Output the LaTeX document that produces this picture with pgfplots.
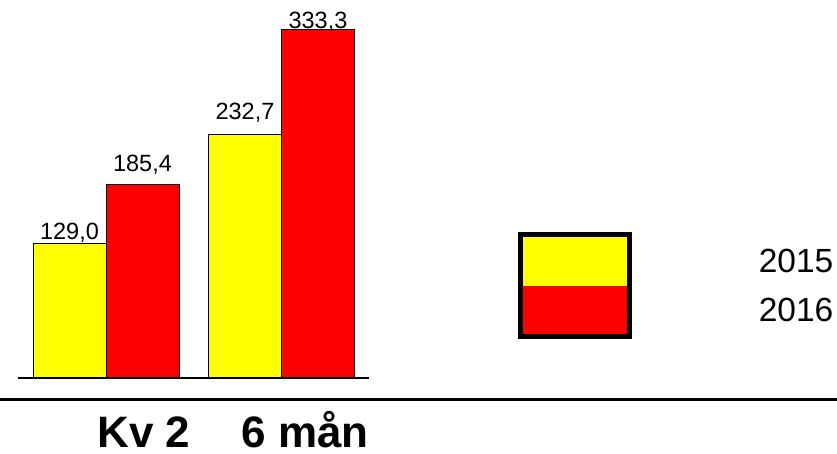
\documentclass[border=0pt]{standalone}
\usepackage{pgfplots}
\pgfplotsset{compat=1.18}
\usepackage{fontspec}
\setmainfont{Liberation Sans}
\definecolor{barY}{RGB}{255,255,0}
\definecolor{barR}{RGB}{255,0,0}
\begin{document}
\begin{tikzpicture}
\useasboundingbox (0,0) rectangle (837pt,454pt);
\begin{axis}[
  at={(18pt,76pt)}, anchor=south west,
  scale only axis, width=352pt, height=355.47pt,
  xmin=18, xmax=370, ymin=0, ymax=340,
  enlargelimits=false, clip=false, hide axis,
  ybar=0pt, bar width=73pt,
  legend cell align=left,
  legend style={at={(axis cs:518,139.6)}, anchor=north west, draw=none, fill=none,
    inner sep=0pt, outer sep=0pt, row sep=0pt,
    font=\fontsize{33.5}{33.5}\selectfont,
    nodes={inner sep=0pt, outer sep=0pt},
    /tikz/every odd column/.append style={column sep=127pt}},
]
\addplot[fill=barY, draw=black, line width=0.8pt,
  legend image code/.code={
    \fill[black] (-5pt,-24.5pt) rectangle (108pt,29pt);
    \fill[barY] (0pt,-24.5pt) rectangle (103pt,24.5pt);}]
  coordinates {(106,129.0) (281.5,232.7)};
\addlegendentry{2015}
\addplot[fill=barR, draw=black, line width=0.8pt,
  legend image code/.code={
    \fill[black] (-5pt,-28.5pt) rectangle (108pt,23.5pt);
    \fill[barR] (0pt,-23.5pt) rectangle (103pt,23.5pt);}]
  coordinates {(106,185.4) (281.5,333.3)};
\addlegendentry{2016}
\draw[line width=2pt] (axis cs:18,0) -- (axis cs:369,0);
\begin{scope}[every node/.style={anchor=base, font=\fontsize{23.5}{23.5}\selectfont, inner sep=0pt}]
\node[yshift=4pt] at (axis cs:69.5,129.0) {129,0};
\node[yshift=13pt] at (axis cs:142.5,185.4) {185,4};
\node[yshift=15pt] at (axis cs:245,232.7) {232,7};
\node[yshift=1pt] at (axis cs:318,333.3) {333,3};
\end{scope}
\node[anchor=base, inner sep=0pt, font=\bfseries\fontsize{44}{44}\selectfont, yshift=-70pt] at (axis cs:144,0) {Kv 2};
\node[anchor=base, inner sep=0pt, font=\bfseries\fontsize{44}{44}\selectfont, yshift=-70pt] at (axis cs:305,0) {6 mån};
\end{axis}
\draw[line width=3pt] (0pt,54.5pt) -- (837pt,54.5pt);
\end{tikzpicture}
\end{document}
